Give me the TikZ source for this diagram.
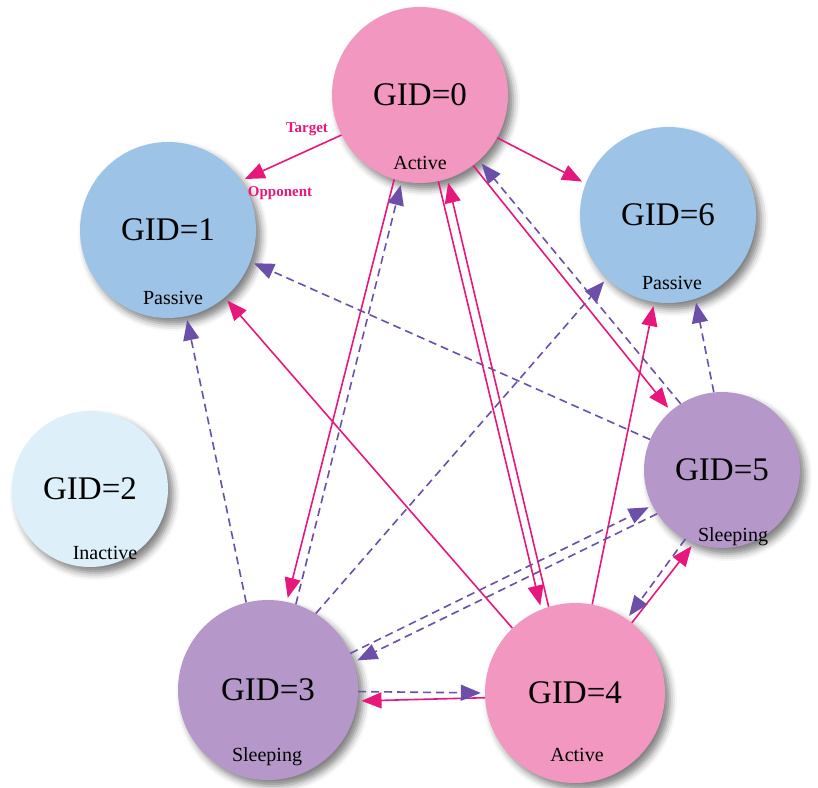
\documentclass[tikz,border=0pt]{standalone}
\usepackage{fontspec}
\setmainfont{Liberation Serif}
\usetikzlibrary{arrows.meta,shadows.blur}
\definecolor{activepink}{HTML}{F197C0}
\definecolor{passiveblue}{HTML}{9DC3E6}
\definecolor{idleblue}{HTML}{DDEFF9}
\definecolor{sleeppurple}{HTML}{B598C9}
\definecolor{targetred}{HTML}{E8177B}
\definecolor{cmdpurple}{HTML}{6B4FA8}

\begin{document}
\begin{tikzpicture}[
      x=1pt,y=-1pt,
      peer/.style={circle,inner sep=0pt,font=\fontsize{33}{36}\selectfont,
        blur shadow={shadow xshift=5pt,shadow yshift=-6pt,shadow blur radius=7pt,shadow opacity=50}},
      big/.style={peer,minimum size=176pt},
      huge/.style={peer,minimum size=180pt},
      small/.style={peer,minimum size=156pt},
      status/.style={font=\fontsize{20}{22}\selectfont},
      tag/.style={font=\fontsize{15}{17}\selectfont\bfseries,text=targetred},
      tgt/.style={-{Triangle[length=20pt,width=16pt]},line width=1.6pt,targetred,shorten >=4pt},
      cmd/.style={-{Triangle[length=20pt,width=16pt]},line width=1.6pt,cmdpurple,dash pattern=on 8pt off 5pt,shorten >=4pt}
    ]
    \useasboundingbox (0,0) rectangle (818,787);
    % peers
    \node[big,fill=activepink] (n0) at (420,95) {GID=0};
    \node[big,fill=passiveblue] (n1) at (168,230) {GID=1};
    \node[small,fill=idleblue] (n2) at (90,489) {GID=2};
    \node[huge,fill=sleeppurple] (n3) at (268,690) {GID=3};
    \node[huge,fill=activepink] (n4) at (575,693) {GID=4};
    \node[small,fill=sleeppurple] (n5) at (722,470) {GID=5};
    \node[big,fill=passiveblue] (n6) at (668,215) {GID=6};
    \node[status] (s0) at (420,163) {Active};
    \node[status] (s1) at (173,298) {Passive};
    \node[status] (s2) at (105,553) {Inactive};
    \node[status] (s3) at (267,757) {Sleeping};
    \node[status] (s4) at (577,755) {Active};
    \node[status] (s5) at (733,537) {Sleeping};
    \node[status] (s6) at (672,283) {Passive};
    % target links
    \draw[tgt] (n0.207) -- (n1.34);
    \draw[tgt] (n0.-29) -- (n6.159);
    \draw[tgt] (n0.-107) -- (n3.78);
    \draw[tgt] (n0.-78) -- (n4.112);
    \draw[tgt] (n4.107) -- (n0.-72);
    \draw[tgt] (n0.-53) -- (n5.131);
    \draw[tgt] (n4.134) -- (n1.-50);
    \draw[tgt] (n4.79) -- (n6.-99);
    \draw[tgt] (n4.-177) -- (n3.-7);
    \draw[tgt] (n4.51) -- (n5.-111);
    % commands
    \draw[cmd] (n3.72) -- (n0.-102);
    \draw[cmd] (n5.122) -- (n0.-48);
    \draw[cmd] (n3.-1) -- (n4.180);
    \draw[cmd] (n5.-118) -- (n4.55);
    \draw[cmd] (n5.157) -- (n1.-21);
    \draw[cmd] (n5.96) -- (n6.-72);
    \draw[cmd] (n3.104) -- (n1.-78);
    \draw[cmd] (n3.58) -- (n6.-134);
    \draw[cmd] (n3.24) -- (n5.-153);
    \draw[cmd] (n5.-146) -- (n3.18);
    \node[tag] (tg) at (307,129) {Target};
    \node[tag] (op) at (280,193) {Opponent};
  \end{tikzpicture}
\end{document}
